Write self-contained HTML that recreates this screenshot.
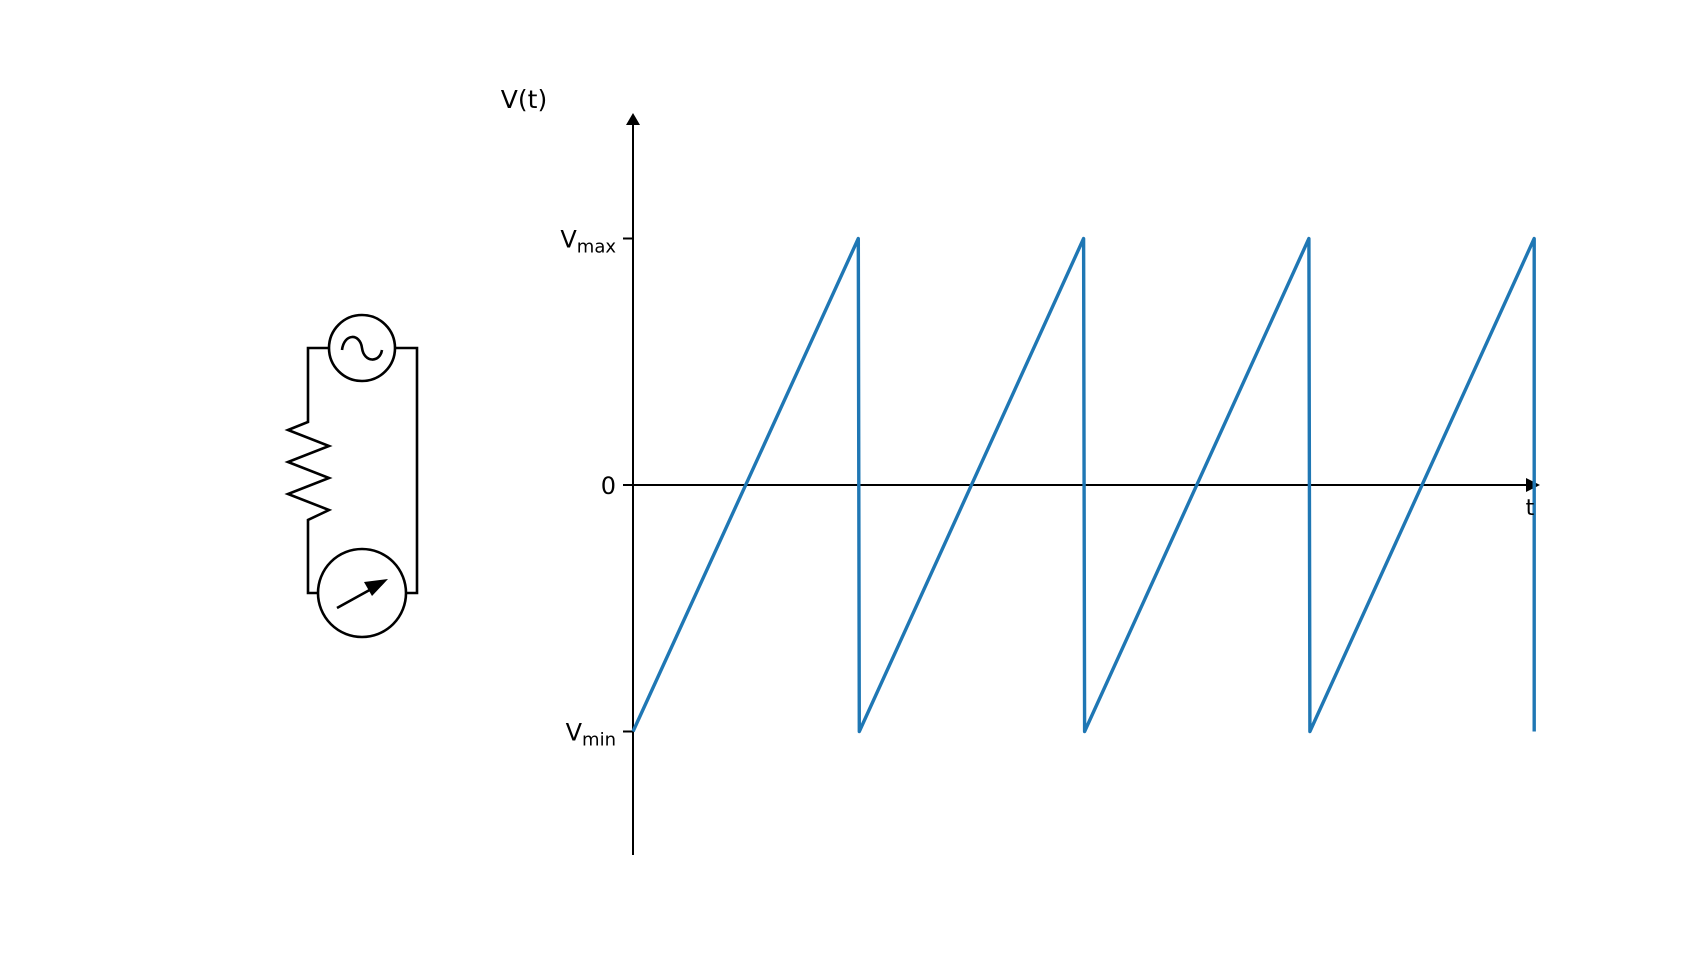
<!DOCTYPE html>
<html><head><meta charset="utf-8"><style>
html,body{margin:0;padding:0;background:#fff;width:1704px;height:960px;overflow:hidden}
svg text{font-family:"DejaVu Sans","Liberation Sans",sans-serif;fill:#000}
</style></head><body>
<svg id="chart" width="1704" height="960" viewBox="0 0 1704 960" xmlns="http://www.w3.org/2000/svg">
<g fill="none" stroke="#000" stroke-width="2.6">
  <polyline points="329,348 308,348 308,422 288,430 329,446 288,462 329,478 288,494 329,510 308,520 308,593 318,593"/>
  <polyline points="395,348 417,348 417,593 406,593"/>
  <ellipse cx="362" cy="348" rx="33" ry="33"/>
  <path d="M342,350 C344,333 360,333 362,348 C364,363 380,363 382,350"/>
  <ellipse cx="362" cy="593" rx="44" ry="44"/>
  <line x1="337" y1="608" x2="375" y2="587"/>
  <polygon points="388,579 364,582 372,596" fill="#000" stroke="none"/>
</g>
<g id="axes"></g>
<g id="series"></g>
<text x="524" y="108" font-size="25" text-anchor="middle">V(t)</text>
<text x="1530" y="515" font-size="22" text-anchor="middle">t</text>
</svg>
<script>
const times=[0,1,1,2,2,3,3,4,4];
const values=[-1,1,-1,1,-1,1,-1,1,-1];
const tickValues=[1,0,-1];
const tickLabels=["max","0","min"];
const NS="http://www.w3.org/2000/svg";
const x0=633,xUnit=225.3;
const yZero=485,yUnit=246.5;
function sx(t){return x0+t*xUnit;}
function sy(v){return yZero-v*yUnit;}
function mk(tag,attrs,parent){const e=document.createElementNS(NS,tag);for(const k in attrs)e.setAttribute(k,attrs[k]);parent.appendChild(e);return e;}
const axes=document.getElementById('axes');
let a=mk('line',{x1:x0,y1:855,x2:x0,y2:120,stroke:'#000','stroke-width':2},axes);


a=mk('polygon',{points:`${x0-7},125 ${x0+7},125 ${x0},113`,fill:'#000'},axes);


a=mk('line',{x1:x0,y1:yZero,x2:1530,y2:yZero,stroke:'#000','stroke-width':2},axes);


a=mk('polygon',{points:`1526,${yZero-7} 1526,${yZero+7} 1540,${yZero}`,fill:'#000'},axes);


tickValues.forEach((v,i)=>{
  const y=sy(v);
  const t=mk('line',{x1:x0-10,y1:y,x2:x0,y2:y,stroke:'#000','stroke-width':2},axes);
  
  
  const tx=mk('text',{x:x0-17,y:y+9,'font-size':24,'text-anchor':'end'},axes);
  
  
  if(tickLabels[i]==="0"){tx.textContent="0";}
  else{
    tx.textContent="V";
    const sub=mk('tspan',{'font-size':18,dy:5},tx);
    sub.textContent=tickLabels[i];
  }
});
const pts=times.map((t,i)=>{let x=sx(t);if(i>0&&i<times.length-1&&values[i]<0)x+=1;return x+','+sy(values[i]);}).join(' ');
const s=mk('polyline',{points:pts,fill:'none',stroke:'#1f77b4','stroke-width':3.4,'stroke-linejoin':'round'},document.getElementById('series'));


</script>
</body></html>
